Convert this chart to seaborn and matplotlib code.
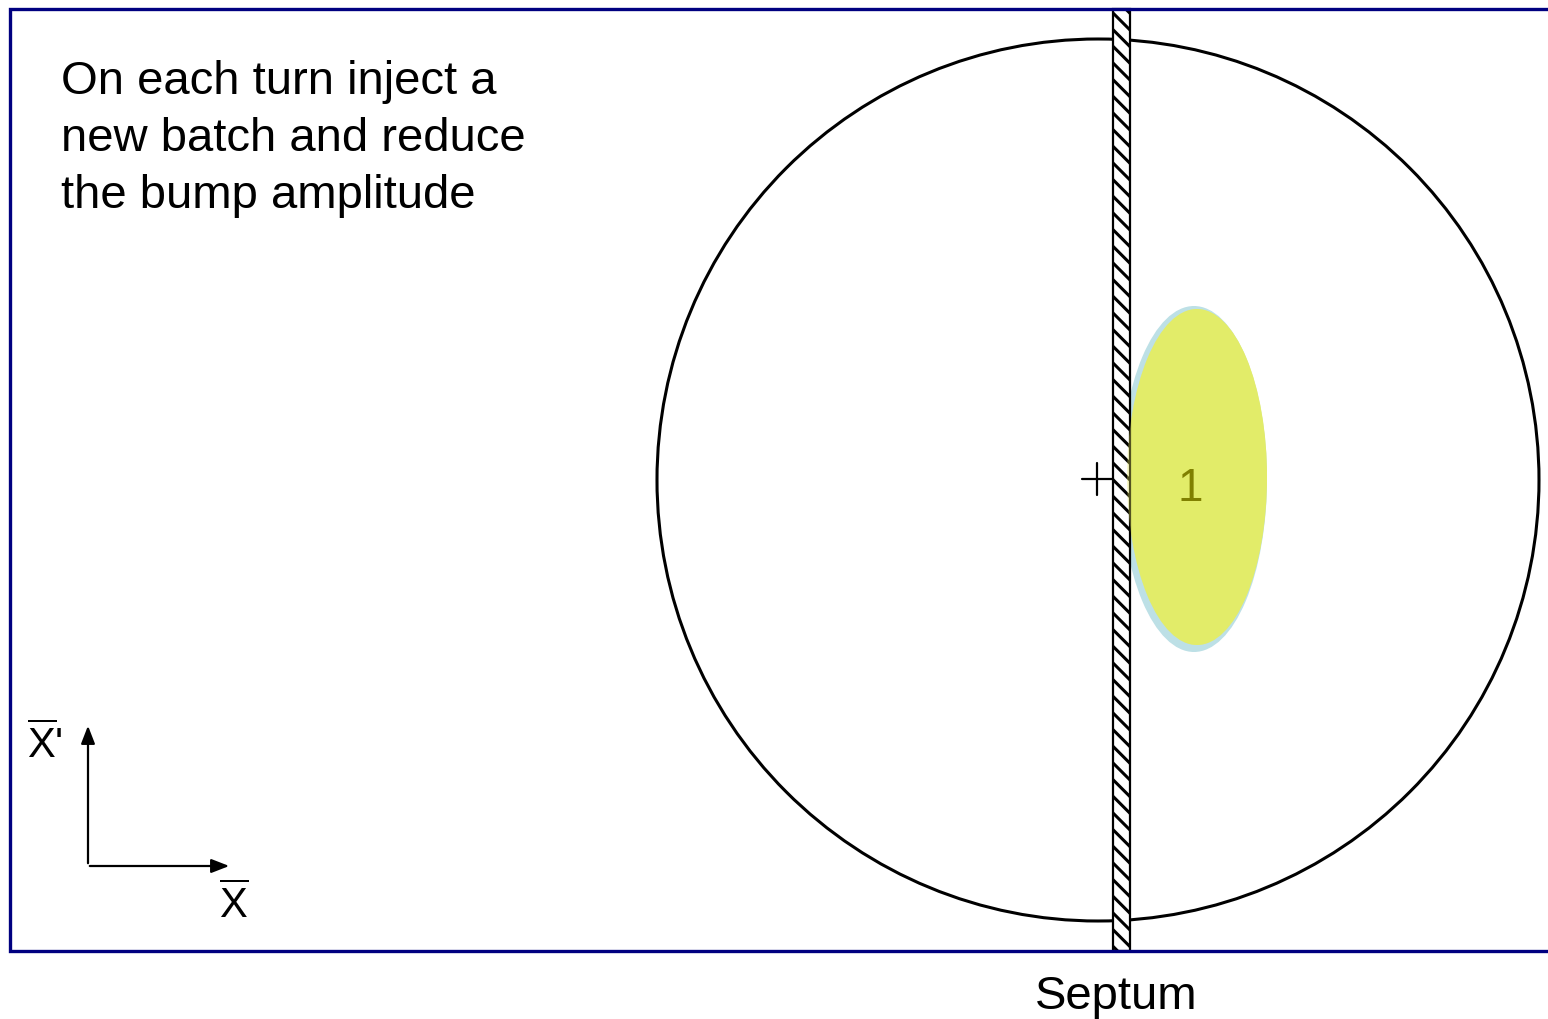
import numpy as np
import seaborn as sns
import matplotlib.pyplot as plt
from matplotlib.patches import Circle, Ellipse, Rectangle

sns.set_theme(style="white")
plt.rcParams["font.family"] = ["Liberation Sans", "DejaVu Sans"]
plt.rcParams["mathtext.fontset"] = "custom"
plt.rcParams["mathtext.rm"] = "Liberation Sans"
plt.rcParams["mathtext.sf"] = "Liberation Sans"
plt.rcParams["text.color"] = "black"
plt.rcParams["hatch.linewidth"] = 2.2

# geometry of the phase-space sketch (pixel units of the original slide)
acceptance_center = (1098, 480)
acceptance_radius = 441
septum_x = [1113, 1130]
batch_labels = ["1"]
batch_centers = [(1197, 477)]
batch_widths = [142]
batch_heights = [336]
intro_lines = ["On each turn inject a", "new batch and reduce", "the bump amplitude"]

W, H = 1548, 1019
fig = plt.figure(figsize=(W / 100, H / 100), dpi=100)
ax = fig.add_axes([0, 0, 1, 1])
ax.set_xlim(0, W)
ax.set_ylim(H, 0)
ax.axis("off")

# slide frame
frame_top, frame_bottom, frame_left = 8.5, 950.5, 9.5
ax.plot([W, frame_left, frame_left, W], [frame_top, frame_top, frame_bottom, frame_bottom],
        color="#000080", lw=2.4, solid_joinstyle="miter", zorder=6)

# acceptance circle
ax.add_patch(Circle(acceptance_center, acceptance_radius, fill=False, ec="black", lw=2.2, zorder=2))

# injected batches
for lab, c, w, h in zip(batch_labels, batch_centers, batch_widths, batch_heights):
    ax.add_patch(Ellipse((c[0] - 3, c[1] + 2), w + 4, h + 10, fc="#bde0e6", ec="none", zorder=3))
    ax.add_patch(Ellipse(c, w - 2, h, fc="#dceb6e", ec="none", zorder=3))
    ax.text(c[0] - 7, c[1] + 12, lab, color="#808000", fontsize=33, ha="center", va="center", zorder=7)

# septum
ax.add_patch(Rectangle((septum_x[0], frame_top), septum_x[1] - septum_x[0], frame_bottom - frame_top,
                       fc="white", ec="black", lw=1.6, hatch="\\\\", zorder=4))
ax.add_patch(Ellipse(batch_centers[0], batch_widths[0] - 2, batch_heights[0],
                     fc="#f0f060", ec="none", alpha=0.35, zorder=5))

# closed-orbit cross
cx, cy = 1097, 479
ax.plot([cx - 15, septum_x[0]], [cy, cy], color="black", lw=1.6, zorder=5)
ax.plot([cx, cx], [cy - 16, cy + 16], color="black", lw=1.6, zorder=5)

# text
for i, line in enumerate(intro_lines):
    ax.text(61, 82 + i * 57, line, fontsize=34, ha="left", va="center", color="black")
ax.text(1116, 997, "Septum", fontsize=34, ha="center", va="center", color="black")

# phase-space axes
ax.annotate("", xy=(88, 723), xytext=(88, 866),
            arrowprops=dict(arrowstyle="-|>,head_length=0.9,head_width=0.35", color="black", lw=1.6))
ax.annotate("", xy=(232, 866), xytext=(87, 866),
            arrowprops=dict(arrowstyle="-|>,head_length=0.9,head_width=0.35", color="black", lw=1.6))
ax.text(27, 745, r"$\overline{\mathrm{X}}$'", fontsize=30, ha="left", va="center", color="black")
ax.text(234, 905, r"$\overline{\mathrm{X}}$", fontsize=30, ha="center", va="center", color="black")

fig.savefig("out.png", dpi=100)
